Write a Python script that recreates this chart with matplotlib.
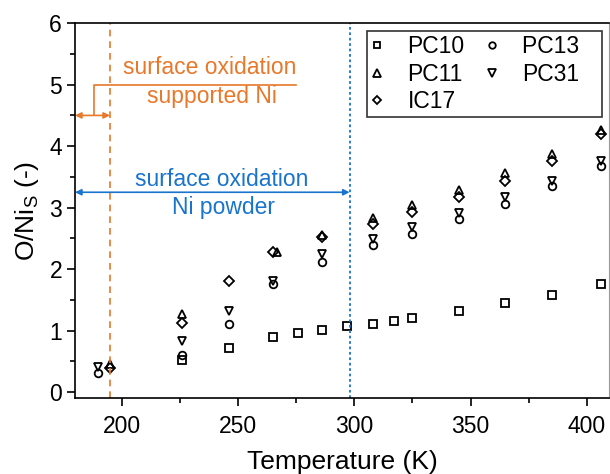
import matplotlib
matplotlib.use("Agg")
import matplotlib.pyplot as plt
from matplotlib.ticker import MultipleLocator

plt.rcParams['font.family'] = ['Liberation Sans', 'DejaVu Sans']

# data
t_pc10 = [226, 246, 265, 276, 286, 297, 308, 317, 325, 345, 365, 385, 406]
pc10 = [0.52, 0.72, 0.90, 0.96, 1.01, 1.07, 1.11, 1.16, 1.20, 1.31, 1.45, 1.58, 1.76]

t_pc11 = [195, 226, 267, 286, 308, 325, 345, 365, 385, 406]
pc11 = [0.45, 1.27, 2.27, 2.56, 2.83, 3.04, 3.28, 3.56, 3.87, 4.26]

t_ic17 = [195, 226, 246, 265, 286, 308, 325, 345, 365, 385, 406]
ic17 = [0.39, 1.13, 1.80, 2.27, 2.53, 2.73, 2.93, 3.17, 3.44, 3.76, 4.19]

t_pc13 = [190, 226, 246, 265, 286, 308, 325, 345, 365, 385, 406]
pc13 = [0.31, 0.61, 1.10, 1.76, 2.11, 2.39, 2.57, 2.81, 3.06, 3.35, 3.68]

t_pc31 = [190, 226, 246, 265, 286, 308, 325, 345, 365, 385, 406]
pc31 = [0.40, 0.83, 1.31, 1.81, 2.24, 2.49, 2.68, 2.91, 3.17, 3.43, 3.76]

t_supported = 195   # orange limit
t_powder = 298      # blue limit

ORANGE = "#E8782A"
BLUE = "#1874CD"

fig = plt.figure(figsize=(6.1, 4.74), dpi=100)
ax = fig.add_axes([0.123, 0.160, 0.8754, 0.791])

mk = dict(linestyle="None", markerfacecolor="none", markeredgecolor="black",
          markersize=5.5, markeredgewidth=1.3)
ax.plot(t_pc10, pc10, marker="s", label="PC10", **mk)
ax.plot(t_pc11, pc11, marker="^", label="PC11", **{**mk, "markersize": 6.3})
ax.plot(t_ic17, ic17, marker="D", label="IC17", **{**mk, "markersize": 5.0})
ax.plot(t_pc13, pc13, marker="o", label="PC13", **mk)
ax.plot(t_pc31, pc31, marker="v", label="PC31", **{**mk, "markersize": 6.3})

ax.axvline(t_supported, color=ORANGE, linestyle=(0, (4, 3)), linewidth=1.2)
ax.axvline(t_powder, color=BLUE, linestyle=(0, (1.5, 1.5)), linewidth=1.3)

# orange annotation
ax.annotate("", xy=(180, 4.5), xytext=(t_supported, 4.5),
            arrowprops=dict(arrowstyle="<|-|>", color=ORANGE, lw=1.2,
                            shrinkA=0, shrinkB=0, mutation_scale=9))
ax.plot([188, 188, 275], [4.5, 5.0, 5.0], color=ORANGE, lw=1.2)
ax.text(238, 5.28, "surface oxidation", color=ORANGE, fontsize=16.5,
        ha="center", va="center")
ax.text(239, 4.80, "supported Ni", color=ORANGE, fontsize=16.5,
        ha="center", va="center")

# blue annotation
ax.annotate("", xy=(180, 3.25), xytext=(t_powder, 3.25),
            arrowprops=dict(arrowstyle="<|-|>", color=BLUE, lw=1.2,
                            shrinkA=0, shrinkB=0, mutation_scale=9))
ax.text(243, 3.45, "surface oxidation", color=BLUE, fontsize=16.5,
        ha="center", va="center")
ax.text(244, 3.00, "Ni powder", color=BLUE, fontsize=16.5,
        ha="center", va="center")

ax.set_xlim(180, 409.5)
ax.set_ylim(-0.1, 6)
ax.xaxis.set_major_locator(MultipleLocator(50))
ax.xaxis.set_minor_locator(MultipleLocator(25))
ax.yaxis.set_major_locator(MultipleLocator(1))
ax.yaxis.set_minor_locator(MultipleLocator(0.5))
ax.tick_params(which="both", direction="out", top=False, right=False,
               width=1.2, labelsize=16.5)
ax.tick_params(which="major", length=5.8)
ax.tick_params(which="minor", length=3.6)
ax.tick_params(axis="x", which="major", pad=6)
for s in ax.spines.values():
    s.set_linewidth(1.2)
ax.spines["right"].set_linewidth(0.8)
ax.spines["right"].set_color("#999999")

ax.set_xlabel("Temperature (K)", fontsize=19, labelpad=9)
ax.set_ylabel("O/Ni$_\\mathregular{S}$ (-)", fontsize=19, labelpad=6)

handles, labels = ax.get_legend_handles_labels()
labels[3] = labels[3] + "   "   # frame is wider than the text in the original
leg = ax.legend(handles, labels, ncol=2, loc="upper right",
                bbox_to_anchor=(0.9869, 0.979), borderaxespad=0,
                fontsize=16.5, markerscale=0.85,
                frameon=True, fancybox=False, edgecolor="black",
                handletextpad=1.05, columnspacing=0.92,
                labelspacing=0.19, borderpad=0.18, handlelength=0.52)
leg.get_frame().set_linewidth(1.2)

fig.savefig("out.png", dpi=100)
